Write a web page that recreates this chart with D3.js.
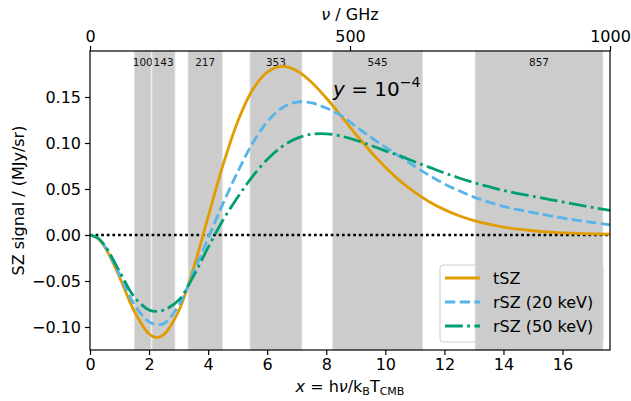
<!DOCTYPE html>
<html><head><meta charset="utf-8">
<script src="https://cdn.jsdelivr.net/npm/d3@7/dist/d3.min.js"></script>
<style>body{margin:0;background:#fff}svg{display:block}text{font-family:"DejaVu Sans",sans-serif}</style>
</head><body>
<svg id="c" width="631" height="401"></svg>
<script>
const xs =   [0,0.25,0.5,1,1.5,2,2.25,2.5,3,3.5,4,4.5,5,5.5,6,6.5,7,7.5,8,8.5,9,9.5,10,10.5,11,11.5,12,12.5,13,13.5,14,14.5,15,15.5,16,16.5,17,17.5,17.61];
const tSZ =  [0,-0.0034,-0.0130,-0.0457,-0.0829,-0.1076,-0.1114,-0.1083,-0.0828,-0.0367,0.0196,0.0757,0.1232,0.1575,0.1771,0.1833,0.1786,0.1661,0.1489,0.1294,0.1095,0.0907,0.0737,0.0588,0.0463,0.0359,0.0276,0.0209,0.0157,0.0117,0.0086,0.0063,0.0046,0.0033,0.0024,0.0017,0.0012,0.0009,0.0008];
const rSZ20 =[0,-0.0032,-0.0122,-0.0428,-0.0755,-0.0945,-0.0973,-0.0962,-0.0770,-0.0410,-0.0035,0.0340,0.0685,0.0995,0.1230,0.1380,0.1445,0.1435,0.1380,0.1300,0.1180,0.1065,0.0955,0.0850,0.0745,0.0645,0.0555,0.0480,0.0412,0.0357,0.0312,0.0275,0.0243,0.0213,0.0185,0.0160,0.0137,0.0115,0.0110];
const rSZ50 =[0,-0.0029,-0.0112,-0.0395,-0.0675,-0.0815,-0.0830,-0.0815,-0.0710,-0.0450,-0.0135,0.0160,0.0410,0.0635,0.0820,0.0960,0.1050,0.1095,0.1100,0.1075,0.1030,0.0975,0.0915,0.0860,0.0795,0.0735,0.0675,0.0620,0.0570,0.0525,0.0485,0.0450,0.0420,0.0390,0.0360,0.0330,0.0300,0.0272,0.0265];
const bandNames = ["100","143","217","353","545","857"];
const bandLo = [86,120,189,308,467,741];
const bandHi = [117,163,254,407,639,986];
const xTicks = [0,2,4,6,8,10,12,14,16];
const nuTicks = [0,500,1000];
const yTicks = [-0.10,-0.05,0.00,0.05,0.10,0.15];
const seriesNames = ["tSZ","rSZ (20 keV)","rSZ (50 keV)"];

const svg = d3.select("#c");
const L=90,R=610,T=51,B=350;
const x = d3.scaleLinear().domain([0,17.608]).range([L,R]);
const nu = d3.scaleLinear().domain([0,1000]).range([L,R]);
const y = d3.scaleLinear().domain([-0.125,0.2]).range([B,T]);
const FS = 16;

// bands
const g = svg.append("g");
bandNames.forEach((n,i)=>{
  g.append("rect").attr("x",nu(bandLo[i])).attr("y",T).attr("width",nu(bandHi[i])-nu(bandLo[i])).attr("height",B-T)
   .attr("fill","#cccccc").attr("stroke","#d8d8d8").attr("stroke-width",1);
  g.append("text").attr("x",(nu(bandLo[i])+nu(bandHi[i]))/2).attr("y",66).attr("text-anchor","middle")
   .attr("font-size",10.5).attr("fill","#111").text(n);
});

// zero line
svg.append("line").attr("x1",L).attr("x2",R).attr("y1",y(0)).attr("y2",y(0))
  .attr("stroke","#000").attr("stroke-width",2.7).attr("stroke-dasharray","2.7,2.9");

const line = d3.line().x((d,i)=>x(xs[i])).y(d=>y(d)).curve(d3.curveCatmullRom.alpha(0.5));
const styles = [
  {c:"#E19C00",d:null},
  {c:"#56B4E9",d:"10.3,4.4"},
  {c:"#009E73",d:"17.8,4.4,2.8,4.4"}
];
[tSZ,rSZ20,rSZ50].forEach((s,i)=>{
  svg.append("path").attr("d",line(s)).attr("fill","none").attr("stroke",styles[i].c)
   .attr("stroke-width",2.8).attr("stroke-dasharray",styles[i].d);
});

// frame
svg.append("rect").attr("x",L).attr("y",T).attr("width",R-L).attr("height",B-T).attr("fill","none").attr("stroke","#000").attr("stroke-width",1.2);

// axes
const fmtY = d=>d3.format(".2f")(d).replace("-","\u2212");
const ax = svg.append("g").attr("transform",`translate(0,${B})`).call(d3.axisBottom(x).tickValues(xTicks).tickSize(5).tickPadding(4).tickFormat(d3.format("d")));
const ay = svg.append("g").attr("transform",`translate(${L},0)`).call(d3.axisLeft(y).tickValues(yTicks).tickSize(5).tickPadding(4).tickFormat(fmtY));
const at = svg.append("g").attr("transform",`translate(0,${T})`).call(d3.axisTop(nu).tickValues(nuTicks).tickSize(5).tickPadding(4).tickFormat(d3.format("d")));
[ax,ay,at].forEach(a=>{a.select(".domain").remove();a.selectAll("text").attr("font-size",FS).attr("font-family","DejaVu Sans").attr("fill","#000");a.selectAll("line").attr("stroke-width",1.2);});

// labels
svg.append("text").attr("x",350).attr("y",392).attr("text-anchor","middle").attr("font-size",FS)
 .html('<tspan font-style="italic">x</tspan> = h<tspan font-style="italic">ν</tspan>/k<tspan font-size="11" dy="3">B</tspan><tspan dy="-3">T</tspan><tspan font-size="11" dy="3">CMB</tspan>');
svg.append("text").attr("x",350).attr("y",20).attr("text-anchor","middle").attr("font-size",FS)
 .html('<tspan font-style="italic">ν</tspan> / GHz');
svg.append("text").attr("transform",`translate(24,${(T+B)/2}) rotate(-90)`).attr("text-anchor","middle").attr("font-size",FS)
 .text("SZ signal / (MJy/sr)");
svg.append("text").attr("x",333).attr("y",96).attr("font-size",20)
 .html('<tspan font-style="italic">y</tspan> = 10<tspan font-size="14" dy="-9">\u22124</tspan>');

// legend
const lg = svg.append("g");
lg.append("rect").attr("x",440).attr("y",265).attr("width",163).attr("height",77).attr("rx",3)
  .attr("fill","none").attr("stroke","#cfcfcf").attr("stroke-width",1);
seriesNames.forEach((n,i)=>{
  const yy = 278+i*24;
  lg.append("line").attr("x1",445).attr("x2",480).attr("y1",yy).attr("y2",yy).attr("stroke",styles[i].c)
    .attr("stroke-width",2.8).attr("stroke-dasharray",styles[i].d);
  lg.append("text").attr("x",493).attr("y",yy+5.5).attr("font-size",FS).text(n);
});
</script>
</body></html>
